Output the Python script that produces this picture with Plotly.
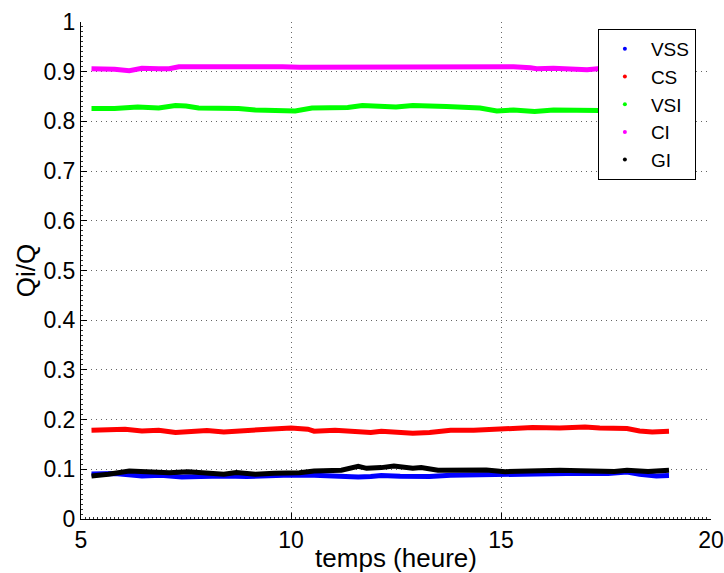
import plotly.graph_objects as go

# ---- data (hours, Qi/Q) ----
vss_t = [5.25, 5.8, 6.2, 6.45, 6.9, 7.4, 7.85, 8.4, 8.95, 9.45, 10.0, 10.55, 11.05, 11.6, 11.9, 12.15,
         12.6, 12.9, 13.3, 13.8, 14.35, 14.9, 15.45, 15.9, 16.4, 16.9, 17.55, 18.0, 18.3, 18.7, 19.0]
vss_v = [0.0905, 0.0913, 0.0887, 0.0867, 0.088, 0.0847, 0.0853, 0.0867, 0.0853, 0.0873, 0.0887, 0.088,
         0.086, 0.0847, 0.0853, 0.0873, 0.086, 0.0847, 0.0853, 0.088, 0.0887, 0.0913, 0.090, 0.0913,
         0.0927, 0.092, 0.0913, 0.0947, 0.090, 0.0867, 0.0873]

cs_t = [5.25, 5.8, 6.05, 6.45, 6.85, 7.25, 7.55, 8.0, 8.4, 8.95, 9.45, 10.0, 10.4, 10.55, 11.05, 11.6,
        11.9, 12.15, 12.6, 12.9, 13.3, 13.8, 14.35, 14.8, 15.1, 15.75, 16.4, 17.0, 17.35, 18.0, 18.3,
        18.6, 19.0]
cs_v = [0.1786, 0.180, 0.1806, 0.1772, 0.1786, 0.174, 0.176, 0.178, 0.1752, 0.1772, 0.180, 0.1833,
        0.1806, 0.1766, 0.1786, 0.1752, 0.174, 0.1766, 0.1752, 0.1725, 0.174, 0.1786, 0.1786, 0.1806,
        0.180, 0.184, 0.1833, 0.1853, 0.1833, 0.182, 0.1772, 0.1752, 0.1766]

vsi_t = [5.25, 5.8, 6.35, 6.85, 7.25, 7.5, 7.8, 8.36, 8.75, 9.15, 9.6, 10.1, 10.5, 11.05, 11.35, 11.7,
         12.15, 12.5, 12.9, 13.3, 13.7, 14.5, 14.9, 15.3, 15.8, 16.25, 16.9, 17.2, 17.35, 17.8, 18.4,
         19.0]
vsi_v = [0.826, 0.826, 0.829, 0.827, 0.832, 0.831, 0.827, 0.827, 0.826, 0.823, 0.823, 0.821, 0.827,
         0.827, 0.828, 0.832, 0.830, 0.829, 0.832, 0.832, 0.830, 0.827, 0.821, 0.823, 0.820, 0.823,
         0.822, 0.820, 0.822, 0.822, 0.823, 0.824]

ci_t = [5.25, 5.5, 5.8, 6.15, 6.3, 6.45, 6.85, 7.1, 7.33, 7.8, 8.36, 8.9, 9.3, 9.8, 10.2, 10.6, 11.05,
        11.6, 11.9, 12.15, 12.9, 13.7, 14.5, 15.3, 15.7, 15.85, 16.25, 16.7, 17.05, 17.3, 17.8, 18.4,
        19.0]
ci_v = [0.906, 0.906, 0.905, 0.902, 0.904, 0.907, 0.906, 0.906, 0.910, 0.910, 0.910, 0.912, 0.912,
        0.910, 0.909, 0.909, 0.910, 0.911, 0.911, 0.909, 0.911, 0.911, 0.910, 0.910, 0.908, 0.906,
        0.907, 0.906, 0.904, 0.906, 0.906, 0.907, 0.906]

gi_t = [5.25, 5.65, 6.15, 6.6, 7.1, 7.55, 8.0, 8.4, 8.7, 9.15, 9.6, 10.2, 10.55, 11.2, 11.6, 11.8,
        12.15, 12.45, 12.9, 13.1, 13.5, 14.1, 14.65, 15.1, 15.6, 16.4, 16.9, 17.7, 18.0, 18.5, 19.0]
gi_v = [0.0867, 0.090, 0.0967, 0.0953, 0.0933, 0.0953, 0.092, 0.090, 0.0933, 0.090, 0.092, 0.0933,
        0.0967, 0.098, 0.106, 0.102, 0.1034, 0.1068, 0.102, 0.1034, 0.098, 0.0987, 0.0987, 0.0953,
        0.097, 0.098, 0.097, 0.0955, 0.098, 0.0955, 0.098]

series = [
    ("VSS", vss_t, vss_v, "#0000ff"),
    ("CS", cs_t, cs_v, "#ff0000"),
    ("VSI", vsi_t, vsi_v, "#00ff00"),
    ("CI", ci_t, ci_v, "#ff00ff"),
    ("GI", gi_t, gi_v, "#000000"),
]

x_ticks = [5, 10, 15, 20]
y_ticks = [0, 0.1, 0.2, 0.3, 0.4, 0.5, 0.6, 0.7, 0.8, 0.9, 1]
y_tick_labels = ["0", "0.1", "0.2", "0.3", "0.4", "0.5", "0.6", "0.7", "0.8", "0.9", "1"]

FONT = "Liberation Sans, Arial, Helvetica, sans-serif"

fig = go.Figure()
for name, t, v, c in series:
    fig.add_trace(go.Scatter(x=t, y=v, mode="lines", line=dict(color=c, width=5),
                             showlegend=False, hoverinfo="skip"))
for name, t, v, c in series:
    fig.add_trace(go.Scatter(x=[None], y=[None], mode="markers", name=name,
                             marker=dict(color=c, size=4)))

axis_common = dict(
    showgrid=True, gridcolor="#666666", gridwidth=1, griddash="1px,4px",
    zeroline=False, showline=True, linecolor="black", linewidth=1,
    ticks="inside", ticklen=6, tickcolor="black", mirror=False, automargin=False,
    tickfont=dict(family=FONT, size=23, color="black"),
    minor=dict(ticks="inside", ticklen=2, tickcolor="#333333", showgrid=False),
)

fig.update_xaxes(range=[5, 20], tickvals=x_ticks, **axis_common,
                 title=dict(text="temps (heure)", font=dict(family=FONT, size=26, color="black"),
                            standoff=0))
fig.update_xaxes(minor_dtick=0.1)
fig.update_yaxes(range=[0, 1], tickvals=y_ticks, ticktext=y_tick_labels, **axis_common,
                 title=dict(text="Qi/Q", font=dict(family=FONT, size=26, color="black"),
                            standoff=0))
fig.update_yaxes(minor_dtick=0.01)

fig.update_layout(
    width=724, height=573,
    margin=dict(l=81, r=13, t=22, b=54),
    plot_bgcolor="white", paper_bgcolor="white",
    font=dict(family=FONT, size=22, color="black"),
    legend=dict(x=0.976, y=0.986, xanchor="right", yanchor="top",
                bgcolor="white", bordercolor="black", borderwidth=1,
                font=dict(family=FONT, size=19, color="black"),
                itemwidth=42, tracegroupgap=0),
)

fig.write_html("out.html",
               config={"displayModeBar": False},
               post_script="document.body.style.margin='0';document.body.style.overflow='hidden';")
